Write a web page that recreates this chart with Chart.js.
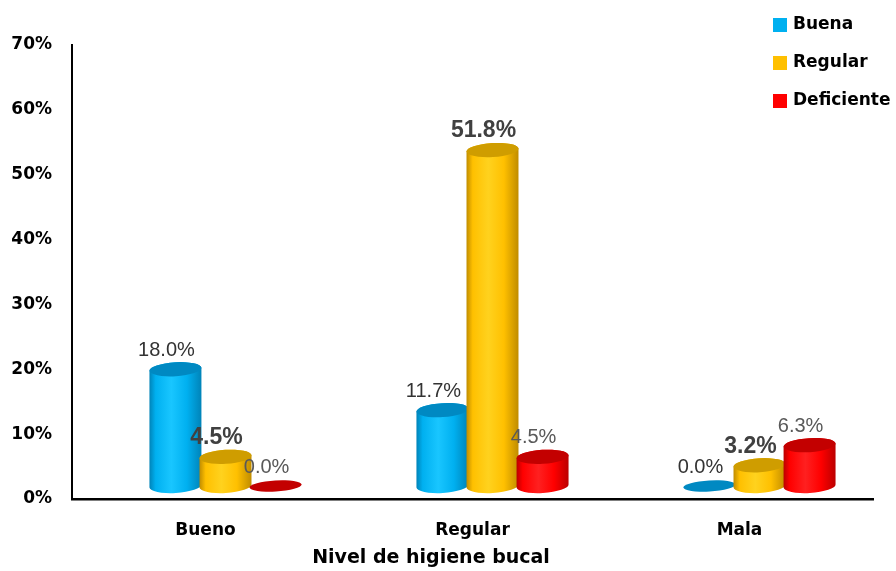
<!DOCTYPE html>
<html><head><meta charset="utf-8">
<script src="https://cdn.jsdelivr.net/npm/chart.js@4/dist/chart.umd.min.js"></script>
<style>html,body{margin:0;padding:0;background:#fff}#wrap{width:896px;height:571px}</style>
</head><body><div id="wrap"><canvas id="c" width="896" height="571"></canvas></div>
<script>
// ---- data ----
const categories = ['Bueno', 'Regular', 'Mala'];
const seriesNames = ['Buena', 'Regular', 'Deficiente'];
const buena = [18.0, 11.7, 0.0];
const regular = [4.5, 51.8, 3.2];
const deficiente = [0.0, 4.5, 6.3];
const yTicks = [0, 10, 20, 30, 40, 50, 60, 70];
const axisTitle = 'Nivel de higiene bucal';

// ---- styles ----
const baseColors = ['#00B0F0', '#FFC000', '#FF0000'];
const lightColors = ['#19C6FF', '#FFD21E', '#FF2020'];
const darkColors = ['#0083B8', '#C08C00', '#BB0000'];
const topColors = ['#0089C2', '#CF9D00', '#C30000'];
const labelFonts = ['20px "Liberation Sans"', 'bold 23px "Liberation Sans"', '20px "Liberation Sans"'];
const labelColors = ['#333333', '#404040', '#595959'];
const DX = 20, DY = -13, RY = 7, ROT = -0.06;

const cylinderPlugin = {
  id: 'cyl',
  beforeDatasetDraw() { return false; },
  afterDatasetsDraw(chart) {
    const ctx = chart.ctx;
    const nCat = categories.length;
    for (let i = 0; i < nCat; i++) {
      chart.data.datasets.forEach((ds, di) => {
        const el = chart.getDatasetMeta(di).data[i];
        const cx = el.x + DX;
        const rx = el.width / 2 + 1;
        const top = el.y + DY;
        const bot = el.base + DY;
        ctx.save();
        if (bot - top > 0.5) {
          const g = ctx.createLinearGradient(cx - rx, 0, cx + rx, 0);
          g.addColorStop(0, darkColors[di]);
          g.addColorStop(0.12, baseColors[di]);
          g.addColorStop(0.42, lightColors[di]);
          g.addColorStop(0.72, baseColors[di]);
          g.addColorStop(1, darkColors[di]);
          ctx.beginPath();
          ctx.ellipse(cx, top, rx, RY, ROT, Math.PI, 0, false);
          ctx.ellipse(cx, bot, rx, RY, ROT, 0, Math.PI, false);
          ctx.closePath();
          ctx.fillStyle = g;
          ctx.fill();
        }
        ctx.beginPath();
        ctx.ellipse(cx, top, rx, bot - top > 0.5 ? RY : RY - 1.5, ROT, 0, Math.PI * 2);
        ctx.fillStyle = topColors[di];
        ctx.fill();
        ctx.restore();
      });
    }
    // value labels
    chart.data.datasets.forEach((ds, di) => {
      chart.getDatasetMeta(di).data.forEach((el, i) => {
        ctx.save();
        ctx.font = labelFonts[di];
        ctx.fillStyle = labelColors[di];
        ctx.textAlign = 'center';
        ctx.textBaseline = 'middle';
        ctx.fillText(ds.data[i].toFixed(1) + '%', el.x + DX - 9, el.y + DY - 19);
        ctx.restore();
      });
    });
  },
  afterDraw(chart) {
    const ctx = chart.ctx;
    ctx.save();
    // axis title
    ctx.font = 'bold 19px "DejaVu Sans"';
    ctx.fillStyle = '#000';
    ctx.textAlign = 'center';
    ctx.textBaseline = 'middle';
    ctx.fillText(axisTitle, 431, 558);
    // legend
    ctx.font = 'bold 17px "DejaVu Sans"';
    ctx.textAlign = 'left';
    seriesNames.forEach((name, k) => {
      const yc = 25 + k * 38;
      ctx.fillStyle = baseColors[k];
      ctx.fillRect(773, yc - 7, 14, 14);
      ctx.fillStyle = '#000';
      ctx.fillText(name, 793, yc);
    });
    ctx.restore();
  }
};

new Chart(document.getElementById('c'), {
  type: 'bar',
  data: {
    labels: categories,
    datasets: [
      { label: seriesNames[0], data: buena, backgroundColor: baseColors[0] },
      { label: seriesNames[1], data: regular, backgroundColor: baseColors[1] },
      { label: seriesNames[2], data: deficiente, backgroundColor: baseColors[2] }
    ]
  },
  options: {
    responsive: false,
    devicePixelRatio: 1,
    animation: false,
    categoryPercentage: 0.5625,
    barPercentage: 1.0,
    layout: { padding: { top: 45, right: 23, left: 0, bottom: 0 } },
    plugins: { legend: { display: false }, tooltip: { enabled: false } },
    scales: {
      x: {
        grid: { display: false, drawTicks: false },
        border: { display: true, color: '#000', width: 2.5 },
        ticks: { padding: 21, color: '#000', font: { family: 'DejaVu Sans', weight: 'bold', size: 17 } },
        afterFit(s) { s.height = 72; }
      },
      y: {
        min: 0, max: 70,
        afterBuildTicks(s) { s.ticks = yTicks.map(v => ({ value: v })); },
        grid: { display: false, drawTicks: false },
        border: { display: true, color: '#000', width: 2 },
        ticks: { padding: 20, color: '#000', font: { family: 'DejaVu Sans', weight: 'bold', size: 17 },
                 callback: v => v + '%' },
        afterFit(s) { s.width = 72; }
      }
    }
  },
  plugins: [cylinderPlugin]
});
</script>
</body></html>
